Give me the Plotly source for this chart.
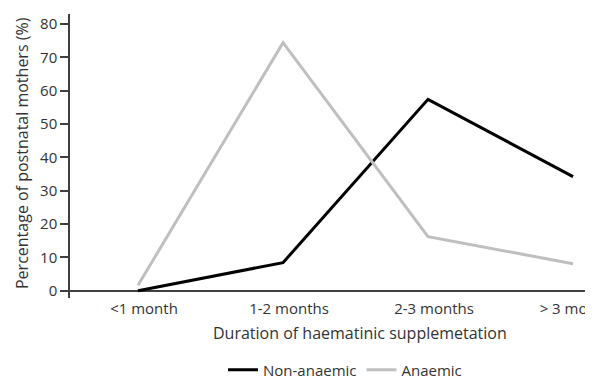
import plotly.graph_objects as go

categories = ["<1 month", "1-2 months", "2-3 months", "> 3 months"]
non_anaemic = [0, 8.4, 57.4, 34.2]
anaemic = [1.6, 74.4, 16.2, 8.1]
y_ticks = [0, 10, 20, 30, 40, 50, 60, 70, 80]

FONT = "Open Sans"
TXT = "#333333"
AX = "#404040"

fig = go.Figure()
fig.add_trace(go.Scatter(x=[0, 1, 2, 3], y=non_anaemic, mode="lines", name="Non-anaemic",
                         line=dict(color="#000000", width=3)))
fig.add_trace(go.Scatter(x=[0, 1, 2, 3], y=anaemic, mode="lines", name="Anaemic",
                         line=dict(color="#bfbfbf", width=3)))

PW = 531  # plot width in px
fig.update_layout(
    width=593, height=378,
    margin=dict(l=62, r=0, t=6, b=88, autoexpand=False),
    plot_bgcolor="white", paper_bgcolor="white",
    font=dict(family=FONT, size=15, color=TXT),
    showlegend=True,
    legend=dict(orientation="h", x=(337 - 62) / PW, xanchor="center", y=-0.2535, yanchor="middle",
                font=dict(size=15, color=TXT), itemwidth=30, tracegroupgap=0),
    xaxis=dict(range=[-0.469, 3.193], tickmode="array", tickvals=[0, 1, 2, 3], ticktext=categories,
               showgrid=False, zeroline=False, showline=False, automargin=False,
               ticks="", ticklabelstandoff=0, ticklabelshift=6,
               ticklabeloverflow="allow",
               tickfont=dict(size=15, color=TXT)),
    yaxis=dict(range=[-2.2, 83], tickmode="array", tickvals=y_ticks, automargin=False,
               showgrid=False, zeroline=True, zerolinecolor=AX, zerolinewidth=1.5,
               showline=True, linecolor=AX, linewidth=1.5,
               ticks="outside", ticklen=8, tickcolor=AX, tickwidth=1.5,
               tickfont=dict(size=15, color=TXT)),
    annotations=[
        dict(text="Duration of haematinic supplemetation", xref="paper", yref="paper",
             x=(352 - 62) / PW, y=(290 - 325) / 284, xanchor="center", yanchor="middle",
             showarrow=False, font=dict(size=16, color=TXT)),
        dict(text="Percentage of postnatal mothers (%)", xref="paper", yref="paper",
             x=(14 - 62) / PW, y=(290 - 145) / 284, xanchor="center", yanchor="middle",
             textangle=-90, showarrow=False, font=dict(size=16, color=TXT)),
    ],
)

fig.write_html("out.html")
